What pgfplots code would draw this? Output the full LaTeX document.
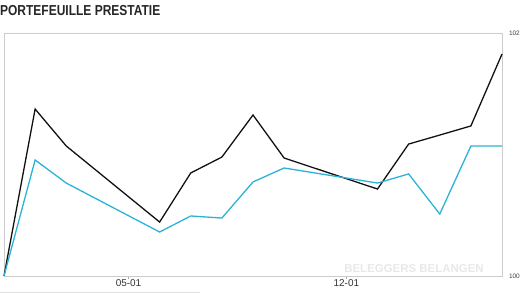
\documentclass[border=0pt]{standalone}
\usepackage{pgfplots}
\pgfplotsset{compat=1.18}
\usepackage{fontspec}
\setmainfont{Liberation Sans}
\definecolor{blk}{HTML}{111111}
\definecolor{cyn}{HTML}{2BB3D6}
\definecolor{frm}{HTML}{CCCCCC}
\begin{document}
\begin{tikzpicture}[x=1bp,y=1bp]
\useasboundingbox (0,0) rectangle (524,294);
\begin{axis}[
  at={(4bp,18bp)}, anchor=south west,
  width=498bp, height=243bp, scale only axis,
  xmin=0, xmax=16, ymin=100, ymax=102,
  axis line style={frm, line width=0.8pt},
  xtick={4,11}, xticklabels={05-01,12-01},
  xtick pos=bottom,
  xtick style={draw=gray!70, line width=0.5pt},
  major tick length=2.5bp,
  tick align=outside,
  x tick label style={font=\fontsize{10}{11}\selectfont, text=black!80, yshift=2bp},
  ytick={100,102}, yticklabels={100,102},
  y tick style={draw=none},
  yticklabel pos=right,
  y tick label style={font=\fontsize{6.5}{7}\selectfont, text=black!75, anchor=west, xshift=1bp},
  clip=false,
]
\addplot[blk, line width=1.3pt] coordinates {
(0,100) (1,101.374) (2,101.070) (5,100.444) (6,100.848) (7,100.979) (8,101.325)
(9,100.971) (12,100.716) (13,101.086) (14,101.160) (15,101.235) (16,101.827)};
\addplot[cyn, line width=1.3pt] coordinates {
(0,100) (1,100.955) (2,100.765) (5,100.362) (6,100.494) (7,100.477) (8,100.774)
(9,100.889) (12,100.765) (13,100.840) (14,100.510) (15,101.070) (16,101.070)};
\end{axis}
\node[anchor=west, font=\bfseries\fontsize{14.5}{15}\selectfont, text=black!85, inner sep=0pt, xscale=0.83] at (0,283) {PORTEFEUILLE PRESTATIE};
\node[font=\bfseries\fontsize{11.5}{12}\selectfont, text=black!9, inner sep=0pt] at (414,25) {BELEGGERS BELANGEN};
\draw[black!12, line width=1pt] (0,2) -- (200,2);
\end{tikzpicture}
\end{document}
